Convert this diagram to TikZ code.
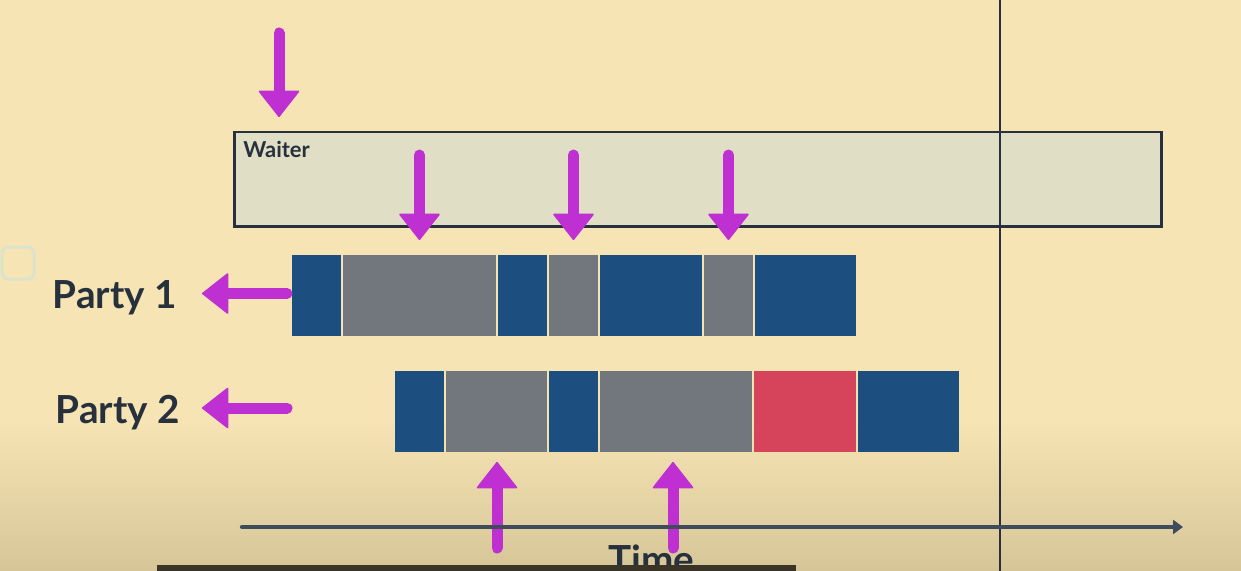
\documentclass[tikz,border=0pt]{standalone}
\usepackage{fontspec}
\setmainfont{Lato}
\usetikzlibrary{arrows.meta}
\usetikzlibrary{positioning}

\definecolor{creamBg}{HTML}{F7E4B5}
\definecolor{creamLow}{HTML}{D6C697}
\definecolor{inkDark}{HTML}{27313D}
\definecolor{axisGrey}{HTML}{3E4C5C}
\definecolor{waiterFill}{HTML}{E0DEC5}
\definecolor{slotBlue}{HTML}{1C4F80}
\definecolor{slotGrey}{HTML}{72777E}
\definecolor{slotRed}{HTML}{D5445A}
\definecolor{hintPurple}{HTML}{BE30D2}
\definecolor{barDark}{HTML}{3A3427}
\definecolor{ghostBox}{HTML}{DCE3CD}

\begin{document}
\begin{tikzpicture}[x=0.02cm,y=-0.02cm,
        node distance=0.04cm,
        slot/.style = {minimum width=#1*0.02cm,minimum height=1.62cm,inner sep=0pt,outer sep=0pt},
        blueSlot/.style = {slot=#1,fill=slotBlue},
        greySlot/.style = {slot=#1,fill=slotGrey},
        redSlot/.style = {slot=#1,fill=slotRed},
        waiterBox/.style = {draw=inkDark,line width=0.06cm,fill=waiterFill,minimum width=18.56cm,minimum height=1.9cm,inner sep=0pt,outer sep=0pt},
        hintArrow/.style = {draw=hintPurple,fill=hintPurple,line width=0.22cm,line cap=round,-{Triangle[length=0.54cm,width=0.84cm,line width=1pt,round]}},
        partyLabel/.style = {text=inkDark,font=\fontsize{22}{26}\selectfont\bfseries,inner sep=0pt},
        timeAxis/.style = {draw=axisGrey,line width=0.085cm,line cap=round,-{Triangle[length=0.2cm,width=0.28cm]}}
        ]
        \useasboundingbox (0,0) rectangle (1241,571);
        % background
        \fill[creamBg] (0,0) rectangle (1241,571);
        \shade[top color=creamBg,bottom color=creamLow] (0,420) rectangle (1241,571);
        \draw[ghostBox,line width=0.06cm,rounded corners=0.12cm] (2,247) rectangle (34,279);

        \node[waiterBox,anchor=north west] (waiter) at (234,132) {};
        \node[anchor=base west,inner sep=0pt,text=inkDark,font=\fontsize{12.5}{15}\selectfont\bfseries] (waiterText) at (243,157) {Waiter};

        % party 1 timeline
        \node[blueSlot=49,anchor=west] (pOneA) at (292,295.5) {};
        \node[greySlot=153,right=of pOneA] (pOneB) {};
        \node[blueSlot=49,right=of pOneB] (pOneC) {};
        \node[greySlot=49,right=of pOneC] (pOneD) {};
        \node[blueSlot=102,right=of pOneD] (pOneE) {};
        \node[greySlot=49,right=of pOneE] (pOneF) {};
        \node[blueSlot=101,right=of pOneF] (pOneG) {};

        % party 2 timeline
        \node[blueSlot=49,anchor=west] (pTwoA) at (395,411.5) {};
        \node[greySlot=101,right=of pTwoA] (pTwoB) {};
        \node[blueSlot=49,right=of pTwoB] (pTwoC) {};
        \node[greySlot=152,right=of pTwoC] (pTwoD) {};
        \node[redSlot=102,right=of pTwoD] (pTwoE) {};
        \node[blueSlot=101,right=of pTwoE] (pTwoF) {};

        \node[partyLabel,anchor=base east] (pOneLabel) at (177,308) {Party 1};
        \node[partyLabel,anchor=base east] (pTwoLabel) at (180,423) {Party 2};

        \draw[inkDark,line width=0.05cm] (1000,0) -- (1000,571);

        % arrows
        \draw[hintArrow] (waiter.north west) ++(45,-99) -- ++(0,84);
        \foreach \s in {pOneB,pOneD,pOneF}
            \draw[hintArrow] (\s.north) ++(0,-100) -- ++(0,85);
        \draw[hintArrow] (pTwoB.south) ++(0.5,96) -- ++(0,-86);
        \draw[hintArrow] (pTwoD.south) ++(-3,96) -- ++(0,-86);
        \draw[hintArrow] (pOneA.west) ++(-5,-2) -- ++(-85,0);
        \draw[hintArrow] (pTwoA.west) ++(-108,-3.5) -- ++(-85,0);

        \coordinate (tStart) at (242,527);
        \coordinate (tEnd) at (1183,527);
        \draw[timeAxis] (tStart) -- (tEnd);
        \node[partyLabel,anchor=base west] (timeLabel) at (608,573) {Time};

        \fill[barDark] (157,565) rectangle (796,571);
\end{tikzpicture}
\end{document}
